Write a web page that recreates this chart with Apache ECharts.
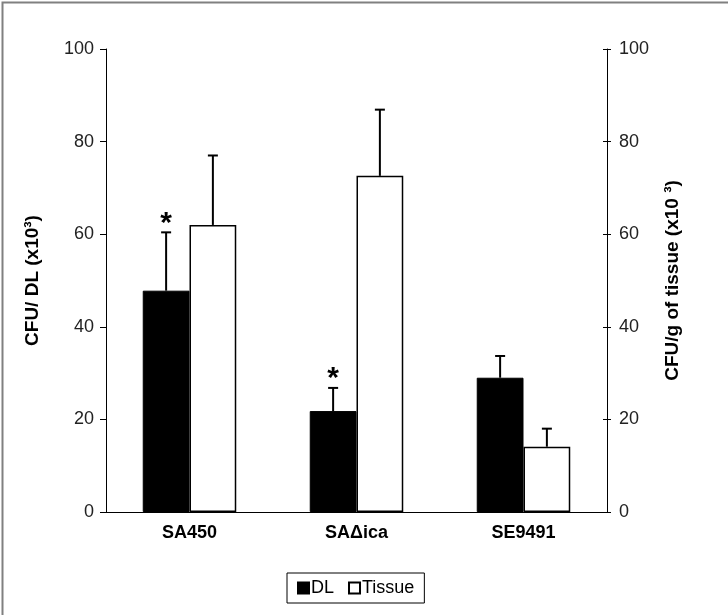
<!DOCTYPE html>
<html>
<head>
<meta charset="utf-8">
<script src="https://cdn.jsdelivr.net/npm/echarts@6/dist/echarts.min.js"></script>
<style>
  html, body { margin: 0; padding: 0; background: #fff; }
  #main { width: 728px; height: 615px; }
</style>
</head>
<body>
<div id="main"></div>
<script>
var categories = ['SA450', 'SA\u0394ica', 'SE9491'];
var dlValues = [47.8, 21.8, 29.0];
var dlErrors = [12.6, 5.0, 4.7];
var tissueValues = [62.0, 72.6, 14.1];
var tissueErrors = [15.0, 14.3, 3.9];
var dlStars = [true, true, false];
var yTicks = [0, 20, 40, 60, 80, 100];

var myChart = echarts.init(document.getElementById('main'));

var BAR_RATIO = 0.28; // each bar is 28% of the category band

// error bar: only the upper whisker + cap, shifted onto its bar
function errorRenderer(values, errors, side, stars) {
    return function (params, api) {
        var i = api.value(0);
        var band = api.size([1, 0])[0];
        var off = side * band * BAR_RATIO / 2;
        var base = api.coord([i, values[i]]);
        var top = api.coord([i, values[i] + errors[i]]);
        var x = base[0] + off;
        var style = { stroke: '#000', lineWidth: 2 };
        var children = [
            { type: 'line', shape: { x1: x, y1: base[1], x2: x, y2: top[1] }, style: style },
            { type: 'line', shape: { x1: x - 5, y1: top[1], x2: x + 5, y2: top[1] }, style: style }
        ];
        if (stars && stars[i]) {
            children.push({
                type: 'text',
                style: {
                    text: '*', x: x, y: top[1] + 6,
                    align: 'center', verticalAlign: 'bottom',
                    font: 'bold 30px "Liberation Sans", Arial', fill: '#000'
                }
            });
        }
        return { type: 'group', children: children };
    };
}

var option = {
    backgroundColor: '#fff',
    animation: false,
    textStyle: { fontFamily: '"Liberation Sans", Arial, sans-serif' },
    graphic: [{
        type: 'rect', left: 0, top: 0, silent: true,
        shape: { width: 727, height: 614 },
        style: { fill: 'none', stroke: '#808080', lineWidth: 2 }
    }],
    legend: {
        data: [
            { name: 'DL' },
            { name: 'Tissue' }
        ],
        left: 287, top: 573,
        icon: 'rect', itemWidth: 11, itemHeight: 11, itemGap: 14,
        padding: [6, 10, 6, 10],
        borderColor: '#000', borderWidth: 1,
        textStyle: { fontSize: 18, color: '#000', padding: [0, 0, 0, -3] }
    },
    grid: { left: 106, right: 121, top: 49, bottom: 103 },
    xAxis: {
        type: 'category',
        data: categories,
        axisLine: { lineStyle: { color: '#000', width: 1 } },
        axisTick: { show: false },
        axisLabel: { fontSize: 18, fontWeight: 'bold', color: '#000', margin: 12 }
    },
    yAxis: [{
        type: 'value', min: 0, max: 100, interval: 20, position: 'left',
        name: 'CFU/ DL (x10\u00b3)', nameLocation: 'middle', nameGap: 64,
        nameTextStyle: { fontSize: 19, fontWeight: 'bold', color: '#000' },
        axisLine: { show: true, lineStyle: { color: '#000' } },
        axisTick: { show: true, length: 6, lineStyle: { color: '#000' } },
        axisLabel: { fontSize: 18, color: '#222', margin: 12 },
        splitLine: { show: false }
    }, {
        type: 'value', min: 0, max: 100, interval: 20, position: 'right',
        name: 'CFU/g of tissue (x10 \u00b3)', nameLocation: 'middle', nameGap: 56,
        nameTextStyle: { fontSize: 19, fontWeight: 'bold', color: '#000' },
        axisLine: { show: true, lineStyle: { color: '#000' } },
        axisTick: { show: true, length: 4, lineStyle: { color: '#000' } },
        axisLabel: { fontSize: 18, color: '#222', margin: 12 },
        splitLine: { show: false }
    }, {
        // inner half of the crossing ticks on the right axis
        type: 'value', min: 0, max: 100, interval: 20, position: 'right',
        axisLine: { show: false },
        axisTick: { show: true, inside: true, length: 4, lineStyle: { color: '#000' } },
        axisLabel: { show: false },
        splitLine: { show: false }
    }],
    series: [
        {
            name: 'DL', type: 'bar', barWidth: '28%', barGap: 0,
            itemStyle: { color: '#000', borderColor: '#000', borderWidth: 1 },
            data: dlValues
        },
        {
            name: 'Tissue', type: 'bar', barWidth: '28%', barGap: 0,
            itemStyle: { color: '#fff', borderColor: '#000', borderWidth: 1.5 },
            data: tissueValues
        },
        {
            type: 'custom', silent: true, z: 5,
            renderItem: errorRenderer(dlValues, dlErrors, -1, dlStars),
            data: categories.map(function (c, i) { return [i, dlValues[i] + dlErrors[i]]; })
        },
        {
            type: 'custom', silent: true, z: 5,
            renderItem: errorRenderer(tissueValues, tissueErrors, 1, null),
            data: categories.map(function (c, i) { return [i, tissueValues[i] + tissueErrors[i]]; })
        }
    ]
};

myChart.setOption(option);
</script>
</body>
</html>
